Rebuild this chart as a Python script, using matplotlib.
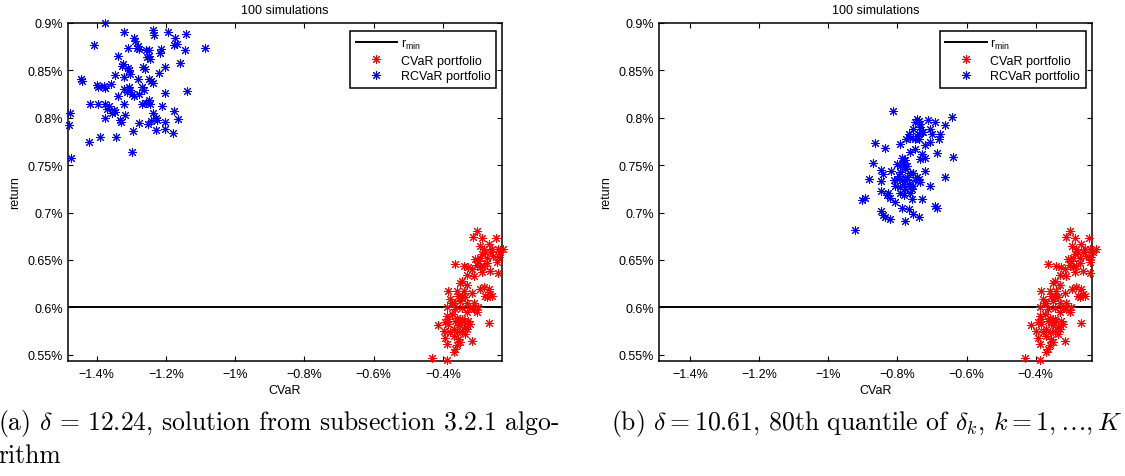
import matplotlib
matplotlib.use("Agg")
import matplotlib.pyplot as plt
from matplotlib.lines import Line2D

plt.rcParams['font.family'] = ['Liberation Sans', 'DejaVu Sans']

# ---- data (percent units) ----
R_MIN = 0.6

# CVaR portfolio: (CVaR %, return %)
cvar_x = [-0.302, -0.313, -0.287, -0.246, -0.268, -0.294, -0.282, -0.258, -0.242, -0.227,
          -0.278, -0.263, -0.287, -0.254, -0.292, -0.273, -0.244, -0.297, -0.364, -0.340,
          -0.326, -0.316, -0.302, -0.292, -0.282, -0.287, -0.263, -0.242, -0.331, -0.345,
          -0.350, -0.384, -0.360, -0.340, -0.316, -0.294, -0.268, -0.263, -0.345, -0.258,
          -0.273, -0.379, -0.369, -0.350, -0.331, -0.311, -0.297, -0.321, -0.388, -0.364,
          -0.345, -0.374, -0.413, -0.393, -0.384, -0.364, -0.355, -0.340, -0.326, -0.321,
          -0.350, -0.335, -0.369, -0.398, -0.379, -0.360, -0.345, -0.331, -0.268, -0.393,
          -0.355, -0.350, -0.358, -0.316, -0.388, -0.364, -0.369, -0.432, -0.388, -0.355,
          -0.335, -0.374, -0.331, -0.311, -0.360, -0.345, -0.384, -0.335, -0.369, -0.278,
          -0.282, -0.331, -0.307, -0.273, -0.239, -0.234, -0.311, -0.388, -0.302]
cvar_ret = [0.681, 0.674, 0.673, 0.673, 0.667, 0.665, 0.662, 0.661, 0.662, 0.661,
            0.658, 0.658, 0.656, 0.654, 0.652, 0.652, 0.648, 0.649, 0.646, 0.644,
            0.642, 0.640, 0.645, 0.642, 0.644, 0.637, 0.638, 0.636, 0.634, 0.628,
            0.626, 0.617, 0.617, 0.617, 0.615, 0.619, 0.619, 0.614, 0.612, 0.612,
            0.611, 0.609, 0.605, 0.607, 0.605, 0.604, 0.600, 0.599, 0.600, 0.598,
            0.599, 0.593, 0.581, 0.584, 0.582, 0.586, 0.584, 0.586, 0.586, 0.582,
            0.581, 0.579, 0.577, 0.575, 0.574, 0.574, 0.575, 0.577, 0.583, 0.568,
            0.567, 0.563, 0.560, 0.564, 0.561, 0.556, 0.553, 0.546, 0.544, 0.612,
            0.611, 0.604, 0.595, 0.598, 0.589, 0.588, 0.588, 0.572, 0.570, 0.612,
            0.621, 0.623, 0.651, 0.647, 0.653, 0.658, 0.633, 0.591, 0.595]

# RCVaR portfolio, delta = 12.24
rcvar_a_x = [-1.377, -1.321, -1.237, -1.235, -1.194, -1.173, -1.168, -1.178, -1.142, -1.086,
             -1.409, -1.293, -1.290, -1.281, -1.277, -1.283, -1.310, -1.259, -1.250, -1.248,
             -1.255, -1.245, -1.214, -1.216, -1.144, -1.160, -1.204, -1.338, -1.324, -1.327,
             -1.309, -1.308, -1.266, -1.261, -1.219, -1.346, -1.322, -1.305, -1.281, -1.248,
             -1.242, -1.238, -1.444, -1.442, -1.399, -1.396, -1.380, -1.377, -1.358, -1.322,
             -1.308, -1.303, -1.312, -1.298, -1.293, -1.338, -1.269, -1.264, -1.279, -1.203,
             -1.139, -1.418, -1.396, -1.375, -1.365, -1.370, -1.351, -1.346, -1.356, -1.322,
             -1.269, -1.259, -1.250, -1.245, -1.211, -1.178, -1.476, -1.481, -1.377, -1.332,
             -1.329, -1.319, -1.279, -1.252, -1.242, -1.238, -1.230, -1.226, -1.203, -1.202,
             -1.165, -1.229, -1.296, -1.180, -1.391, -1.344, -1.421, -1.298, -1.474]
rcvar_a_ret = [0.900, 0.891, 0.893, 0.887, 0.891, 0.884, 0.878, 0.877, 0.888, 0.874,
               0.877, 0.884, 0.881, 0.876, 0.873, 0.874, 0.874, 0.871, 0.871, 0.865,
               0.864, 0.862, 0.873, 0.868, 0.871, 0.858, 0.854, 0.865, 0.857, 0.855,
               0.853, 0.850, 0.854, 0.851, 0.847, 0.845, 0.843, 0.846, 0.841, 0.841,
               0.839, 0.837, 0.841, 0.839, 0.835, 0.832, 0.833, 0.831, 0.836, 0.830,
               0.832, 0.829, 0.827, 0.825, 0.823, 0.823, 0.832, 0.829, 0.825, 0.826,
               0.828, 0.814, 0.814, 0.814, 0.812, 0.809, 0.808, 0.806, 0.805, 0.814,
               0.815, 0.816, 0.819, 0.814, 0.812, 0.807, 0.805, 0.792, 0.800, 0.798,
               0.795, 0.803, 0.794, 0.793, 0.797, 0.805, 0.800, 0.798, 0.796, 0.788,
               0.799, 0.787, 0.786, 0.784, 0.780, 0.780, 0.774, 0.764, 0.758]

# RCVaR portfolio, delta = 10.61
rcvar_b_x = [-0.813, -0.643, -0.744, -0.749, -0.739, -0.734, -0.713, -0.691, -0.662, -0.754,
             -0.729, -0.739, -0.725, -0.705, -0.701, -0.676, -0.681, -0.768, -0.763, -0.775,
             -0.749, -0.739, -0.705, -0.720, -0.864, -0.794, -0.837, -0.749, -0.763, -0.729,
             -0.720, -0.734, -0.686, -0.638, -0.787, -0.778, -0.782, -0.792, -0.778, -0.872,
             -0.847, -0.843, -0.819, -0.802, -0.763, -0.754, -0.720, -0.797, -0.802, -0.787,
             -0.773, -0.782, -0.768, -0.749, -0.739, -0.734, -0.882, -0.847, -0.807, -0.792,
             -0.778, -0.763, -0.763, -0.705, -0.662, -0.847, -0.826, -0.829, -0.821, -0.893,
             -0.903, -0.758, -0.729, -0.807, -0.787, -0.768, -0.691, -0.686, -0.847, -0.843,
             -0.837, -0.823, -0.778, -0.754, -0.739, -0.924, -0.794, -0.782, -0.811, -0.744,
             -0.744, -0.782, -0.773, -0.754, -0.773, -0.792, -0.734, -0.758]
rcvar_b_ret = [0.807, 0.801, 0.799, 0.795, 0.797, 0.793, 0.798, 0.796, 0.792, 0.788,
               0.785, 0.783, 0.785, 0.788, 0.783, 0.783, 0.778, 0.783, 0.779, 0.778,
               0.778, 0.778, 0.774, 0.771, 0.773, 0.772, 0.768, 0.767, 0.764, 0.762,
               0.758, 0.756, 0.763, 0.759, 0.758, 0.755, 0.751, 0.749, 0.746, 0.752,
               0.745, 0.741, 0.744, 0.751, 0.742, 0.742, 0.744, 0.739, 0.735, 0.734,
               0.735, 0.730, 0.730, 0.734, 0.735, 0.732, 0.735, 0.733, 0.728, 0.727,
               0.725, 0.727, 0.721, 0.728, 0.738, 0.723, 0.721, 0.718, 0.715, 0.715,
               0.713, 0.714, 0.714, 0.711, 0.705, 0.704, 0.707, 0.705, 0.702, 0.697,
               0.695, 0.693, 0.691, 0.698, 0.695, 0.682, 0.721, 0.718, 0.734, 0.738,
               0.781, 0.755, 0.749, 0.728, 0.738, 0.743, 0.790, 0.725]

x_ticks = [-1.4, -1.2, -1.0, -0.8, -0.6, -0.4]
x_tick_labels = ['\u22121.4%', '\u22121.2%', '\u22121%', '\u22120.8%', '\u22120.6%', '\u22120.4%']
y_ticks = [0.55, 0.60, 0.65, 0.70, 0.75, 0.80, 0.85, 0.90]
y_tick_labels = ['0.55%', '0.6%', '0.65%', '0.7%', '0.75%', '0.8%', '0.85%', '0.9%']

caption_a = [r'(a) $\delta\,=\,12.24$, solution from subsection 3.2.1 algo-', 'rithm']
caption_b = r'(b) $\delta = 10.61$, 80th quantile of $\delta_k$, $k = 1,\ldots,K$'

W, H = 1125, 477
fig = plt.figure(figsize=(W / 100, H / 100), dpi=100)

FS = 9
STAR = (8, 2, 0)   # eight-spoke asterisk
MS, MEW = 6.5, 0.75


def panel(rect, rx, rret, xlim):
    ax = fig.add_axes(rect)
    ax.axhline(R_MIN, color='black', lw=1.4, zorder=2)
    ax.plot(cvar_x, cvar_ret, ls='none', marker=STAR, ms=MS, mew=MEW,
            color='red', clip_on=False, zorder=3)
    ax.plot(rx, rret, ls='none', marker=STAR, ms=MS, mew=MEW,
            color='blue', clip_on=False, zorder=3)
    ax.set_xlim(*xlim)
    ax.set_ylim(0.5433, 0.900)
    ax.set_xticks(x_ticks)
    ax.set_xticklabels(x_tick_labels)
    ax.set_yticks(y_ticks)
    ax.set_yticklabels(y_tick_labels)
    ax.tick_params(direction='in', length=3.5, width=0.8, top=True, right=True,
                   labelsize=FS, pad=3.5)
    ax.tick_params(axis='x', pad=5)
    for s in ax.spines.values():
        s.set_linewidth(1.1)
    ax.set_title('100 simulations', fontsize=FS, pad=7)
    ax.set_xlabel('CVaR', fontsize=FS, labelpad=3)
    ax.set_ylabel('return', fontsize=FS, labelpad=5)
    handles = [Line2D([], [], color='black', lw=1.4),
               Line2D([], [], ls='none', marker=STAR, ms=MS, mew=MEW, color='red'),
               Line2D([], [], ls='none', marker=STAR, ms=MS, mew=MEW, color='blue')]
    labels = [r'r$_{\mathregular{min}}$', 'CVaR portfolio', 'RCVaR portfolio']
    leg = ax.legend(handles, labels, loc='upper right', bbox_to_anchor=(0.986, 0.976),
                    borderaxespad=0, fontsize=FS, handlelength=3.3, handletextpad=0.3,
                    borderpad=0.45, labelspacing=0.3, fancybox=False, framealpha=1,
                    edgecolor='black')
    leg.get_frame().set_linewidth(1.1)
    return ax


bottom = 1 - 362 / H
height = 338 / H
panel([68 / W, bottom, 434 / W, height], rcvar_a_x, rcvar_a_ret, (-1.483, -0.229))
panel([659 / W, bottom, 432.7 / W, height], rcvar_b_x, rcvar_b_ret, (-1.490, -0.238))

cap_kw = dict(family='cmr10', math_fontfamily='cm', fontsize=18.5, va='center', ha='left')
fig.text(-2 / W, 1 - 424 / H, caption_a[0], **cap_kw)
fig.text(-2 / W, 1 - 456 / H, caption_a[1], **cap_kw)
fig.text(611 / W, 1 - 424 / H, caption_b, **cap_kw)

fig.savefig('out.png', dpi=100)
